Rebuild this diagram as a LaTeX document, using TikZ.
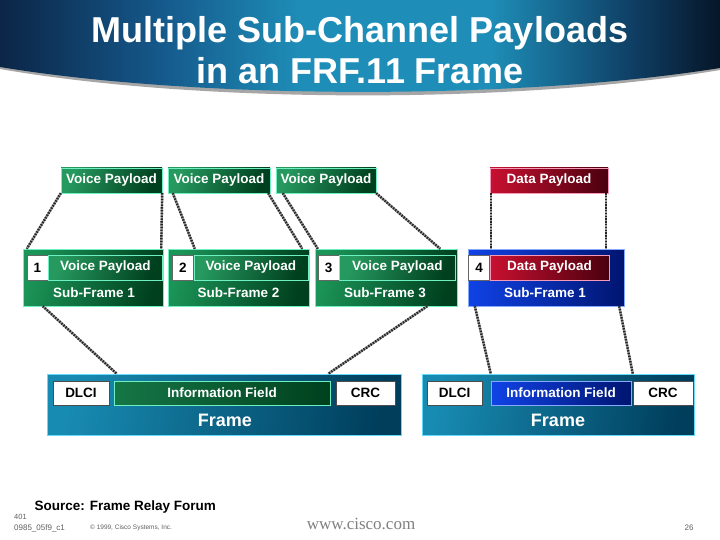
\documentclass[tikz,border=0pt]{standalone}
\usepackage{fontspec}
\setmainfont{Liberation Sans}
\newfontfamily\webfont{Liberation Serif}
\usetikzlibrary{calc,positioning}
\definecolor{bandnavy}{HTML}{0B2546}
\definecolor{bandmid}{HTML}{15588A}
\definecolor{bandteal}{HTML}{1E8EB8}
\definecolor{bandedge}{HTML}{061628}
\definecolor{sfgreen}{HTML}{1B9457}
\definecolor{sfgreendark}{HTML}{00401E}
\definecolor{sfgreenline}{HTML}{6FF0C2}
\definecolor{sfblue}{HTML}{1042E6}
\definecolor{sfbluedark}{HTML}{001570}
\definecolor{sfblueline}{HTML}{86A8FF}
\definecolor{dpred}{HTML}{C81030}
\definecolor{dpreddark}{HTML}{4A000E}
\definecolor{dpredline}{HTML}{F49AB8}
\definecolor{frcyan}{HTML}{1EAEDF}
\definecolor{frcyandark}{HTML}{003E5C}
\definecolor{frcyanline}{HTML}{66DAF8}
\definecolor{footgray}{HTML}{606060}
\pgfdeclarehorizontalshading{titleband}{100bp}{color(0bp)=(bandnavy); color(25bp)=(bandnavy); color(36bp)=(bandmid);
  color(46bp)=(bandteal); color(59bp)=(bandteal); color(69bp)=(bandmid!60!bandedge); color(75bp)=(bandedge); color(100bp)=(bandedge)}
\tikzset{
  payload/.style={draw=sfgreenline,thin,left color=sfgreen!95!white,right color=sfgreendark,
    shading angle=70,minimum height=25pt,inner sep=0pt,font=\bfseries\fontsize{13.5}{15}\selectfont,text=white},
  datapay/.style={payload,draw=dpredline,left color=dpred,right color=dpreddark},
  subframe/.style={draw=sfgreenline,thin,left color=sfgreen,right color=sfgreendark,shading angle=75,
    minimum height=57pt,inner sep=0pt},
  numbox/.style={draw=black!60,fill=white,minimum width=21pt,minimum height=25pt,inner sep=0pt,
    font=\bfseries\fontsize{13.5}{15}\selectfont,text=black},
  sflabel/.style={font=\bfseries\fontsize{13.5}{15}\selectfont,text=white},
  framebox/.style={draw=frcyanline,thin,left color=frcyan!80!black,middle color=frcyan,right color=frcyandark,
    shading angle=80,minimum height=61pt,inner sep=0pt},
  whitefield/.style={draw=black!70,fill=white,minimum height=24pt,inner sep=0pt,
    font=\bfseries\fontsize{13.5}{15}\selectfont,text=black},
  infofield/.style={draw=sfgreenline,thin,left color=sfgreen!80!black,right color=sfgreendark,minimum height=24pt,
    inner sep=0pt,font=\bfseries\fontsize{13.5}{15}\selectfont,text=white},
  framelabel/.style={font=\bfseries\fontsize{18}{20}\selectfont,text=white},
  link/.style={draw=black!85,line width=2.4pt,dash pattern=on 1.4pt off 1.4pt,
    preaction={draw=black!40,line width=2.4pt}}
}
\begin{document}
\begin{tikzpicture}[x=1pt,y=-1pt]
  \useasboundingbox (0,0) rectangle (720,540);
  \fill[white] (0,0) rectangle (720,540);
  % title band
  \fill[black!35] (0,69) .. controls (200,104) and (520,104) .. (720,70) -- (720,66)
    .. controls (520,98) and (200,98) .. (0,65) -- cycle;
  \shade[shading=titleband]
    (0,0) -- (720,0) -- (720,68) .. controls (520,100) and (200,100) .. (0,67) -- cycle;
  \node[font=\bfseries\fontsize{36}{40}\selectfont,text=white] (title1) at (360,33) {Multiple Sub-Channel Payloads};
  \node[font=\bfseries\fontsize{36}{40}\selectfont,text=white] (title2) at (360,71) {in an FRF.11 Frame};

  % payloads
  \node[payload,minimum width=101pt] (vp1) at (111.5,180.5) {Voice Payload};
  \node[payload,minimum width=102pt] (vp2) at (219,180.5) {Voice Payload};
  \node[payload,minimum width=100pt] (vp3) at (326,180.5) {Voice Payload};
  \node[datapay,minimum width=118pt] (dp) at (549,180.5) {Data Payload};

  % sub-frames
  \node[subframe,minimum width=140pt] (sf1) at (93,277.5) {};
  \node[subframe,minimum width=141pt] (sf2) at (238.5,277.5) {};
  \node[subframe,minimum width=142pt] (sf3) at (386,277.5) {};
  \node[subframe,minimum width=156pt,draw=sfblueline,left color=sfblue,right color=sfbluedark] (sf4) at (546,277.5) {};
  \node[numbox] (n1) at (37.5,267.5) {1};
  \node[numbox] (n2) at (183,267.5) {2};
  \node[numbox] (n3) at (328.5,267.5) {3};
  \node[numbox] (n4) at (479,267.5) {4};
  \node[payload,minimum width=114pt,anchor=west] (sp1) at (n1.east) {Voice Payload};
  \node[payload,minimum width=114pt,anchor=west] (sp2) at (n2.east) {Voice Payload};
  \node[payload,minimum width=116pt,anchor=west] (sp3) at (n3.east) {Voice Payload};
  \node[datapay,minimum width=119pt,anchor=west] (sp4) at (n4.east) {Data Payload};
  \node[sflabel] (sl1) at ($(sf1.south)+(1,-14)$) {Sub-Frame 1};
  \node[sflabel] (sl2) at ($(sf2.south)+(0,-14)$) {Sub-Frame 2};
  \node[sflabel] (sl3) at ($(sf3.south)+(-1,-14)$) {Sub-Frame 3};
  \node[sflabel] (sl4) at ($(sf4.south)+(-1,-14)$) {Sub-Frame 1};

  % frames
  \node[framebox,minimum width=354pt] (fl) at (224,404.5) {};
  \node[framebox,minimum width=272pt] (fr) at (558,404.5) {};
  \node[whitefield,minimum width=56pt] (dlciL) at (81,393) {DLCI};
  \node[infofield,minimum width=216pt] (infL) at (222,393) {Information Field};
  \node[whitefield,minimum width=59pt] (crcL) at (365.5,393) {CRC};
  \node[whitefield,minimum width=55pt] (dlciR) at (454.5,393) {DLCI};
  \node[infofield,minimum width=140pt,draw=sfblueline,left color=sfblue,right color=sfbluedark] (infR) at (561,393) {Information Field};
  \node[whitefield,minimum width=60pt] (crcR) at (663,393) {CRC};
  \node[framelabel] (flab1) at ($(fl.south)+(1,-15)$) {Frame};
  \node[framelabel] (flab2) at ($(fr.south)+(0,-15)$) {Frame};

  % payload to sub-frame
  \draw[link] (vp1.south west) -- ($(sf1.north west)+(4,0)$);
  \draw[link] (vp1.south east) -- ($(sf1.north east)+(-2,0)$);
  \draw[link] ($(vp2.south west)+(5,0)$) -- ($(sf2.north west)+(27,0)$);
  \draw[link] ($(vp2.south east)+(-2,0)$) -- ($(sf2.north east)+(-7,0)$);
  \draw[link] ($(vp3.south west)+(7,0)$) -- ($(sf3.north west)+(3,0)$);
  \draw[link] (vp3.south east) -- ($(sf3.north east)+(-17,0)$);
  \draw[link] ($(dp.south west)+(1,0)$) -- ($(dp.south west |- sf4.north)+(1,0)$);
  \draw[link] ($(dp.south east)+(-2,0)$) -- ($(dp.south east |- sf4.north)+(-2,0)$);
  % sub-frame to frame
  \draw[link] ($(sf1.south west)+(20,0)$) -- ($(infL.north west |- fl.north)+(3,0)$);
  \draw[link] ($(sf3.south east)+(-30,0)$) -- ($(infL.north east |- fl.north)+(-2,0)$);
  \draw[link] ($(sf4.south west)+(7,0)$) -- (infR.north west |- fr.north);
  \draw[link] ($(sf4.south east)+(-5,0)$) -- (crcR.north west |- fr.north);

  % footer
  \node[font=\bfseries\fontsize{13.5}{15}\selectfont,anchor=west] (source) at (31,507) {Source: Frame Relay Forum};
  \node[font=\fontsize{7.5}{8}\selectfont,text=footgray,anchor=west,inner sep=0pt] (slide) at (14,517) {401};
  \node[font=\fontsize{8}{9}\selectfont,text=footgray,anchor=west,inner sep=0pt] (code) at (14,528) {0985\_05f9\_c1};
  \node[font=\fontsize{6.5}{7}\selectfont,text=footgray,anchor=west,inner sep=0pt] (copy) at (90,528) {© 1999, Cisco Systems, Inc.};
  \node[font=\webfont\fontsize{17}{19}\selectfont,text=black!50] (web) at (361,524) {www.cisco.com};
  \node[font=\fontsize{8}{9}\selectfont,text=footgray,inner sep=0pt] (page) at (689,528) {26};
\end{tikzpicture}
\end{document}
